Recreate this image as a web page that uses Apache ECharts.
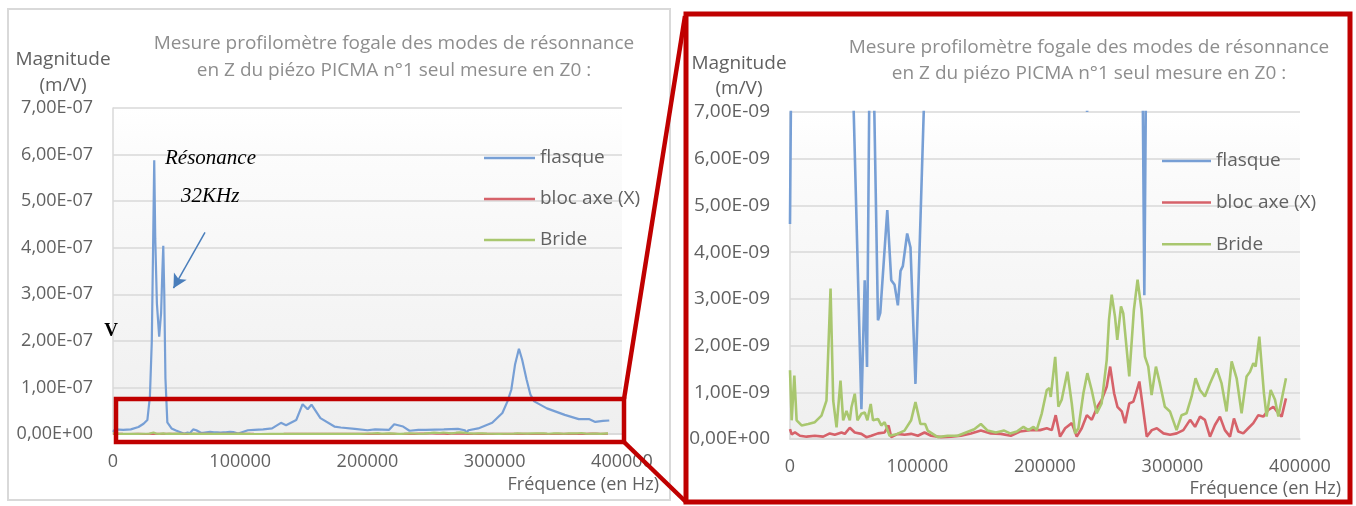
<!DOCTYPE html>
<html>
<head>
<meta charset="utf-8">
<script src="https://cdn.jsdelivr.net/npm/echarts@6/dist/echarts.min.js"></script>
<style>
html,body{margin:0;padding:0;background:#fff;}
#chart{width:1356px;height:506px;}
</style>
</head>
<body>
<div id="chart"></div>
<script>
// ---- data (frequency in Hz, magnitude in nm/V = 1e-9 m/V) ----
var flasqueFreq = [0,1500,8000,14000,20000,24000,27000,29000,30500,31500,32400,33200,34500,36300,37800,38800,39500,40300,41200,42700,46000,49500,56000,58600,60400,63000,65500,69000,70800,76300,79400,82000,84600,86700,88500,91900,94500,98400,106000,111000,118000,125000,132000,136000,144000,149000,153000,156000,163000,174000,179000,190000,200000,206000,217000,221000,228000,233000,240000,246000,260000,271000,276500,277900,279300,287000,298000,306000,310000,313000,316000,319000,321500,325000,328000,331000,341000,355000,366000,374000,379000,385000,390000];
var flasqueVal  = [4.6,10,9,10,15,22,30,80,200,400,588,420,280,209,260,350,404,300,120,25,12,7.5,0.64,3.4,1.54,10,8,2.54,2.7,4.9,3.4,3.3,2.86,3.6,3.7,4.4,4.1,1.18,8,9,10,12,24,19,30,64,53,63,34,16,14,11,8,10,9,21,16,7,9,9,10,11,8,3.08,8,12,24,45,70,95,150,183,160,117,85,70,55,41,32,32,26,28,29];

var blocFreq = [0,1300,3900,7800,13000,19500,26000,31200,35100,40400,43000,46900,50800,56000,59900,63800,69000,74200,77300,79400,84600,89800,95000,100300,105500,110700,118500,126300,134100,141900,149700,157500,165400,173200,180400,188300,196100,201400,205300,208400,211800,215800,221000,224900,228800,232800,236700,241100,244500,248400,251100,254200,256800,260200,262800,266100,269300,271400,274000,276700,279800,283800,287700,292900,298100,303300,308500,313800,317700,321600,325400,329400,333300,337200,341100,345100,348200,351600,355500,359400,363400,367300,371200,375200,379100,383000,385600,389000];
var blocVal  = [0.21,0.1,0.14,0.07,0.05,0.07,0.05,0.12,0.09,0.14,0.11,0.24,0.14,0.11,0.04,0.07,0.12,0.14,0.29,0.04,0.11,0.09,0.11,0.07,0.14,0.07,0.04,0.05,0.07,0.12,0.18,0.12,0.11,0.07,0.16,0.19,0.19,0.23,0.19,0.51,0.05,0.23,0.34,0.05,0.23,0.51,0.41,0.69,0.84,1.12,1.55,0.98,0.69,0.59,0.34,0.76,0.8,0.98,1.23,0.69,0.05,0.19,0.23,0.12,0.09,0.12,0.19,0.41,0.26,0.48,0.41,0.05,0.3,0.48,0.19,0.05,0.44,0.16,0.12,0.23,0.34,0.51,0.48,0.62,0.69,0.55,0.48,0.87];

var brideFreq = [0,1300,3400,5200,9100,14300,19500,24700,28600,31800,33900,36500,39600,41700,44300,46900,48200,50800,52900,56000,58600,60700,63300,65100,69000,71600,74200,78100,83300,89800,95000,98400,102300,106000,108000,115900,123700,131500,138000,144500,149700,155000,161400,168000,172600,177900,183100,187000,191000,193500,197500,201400,203500,204500,208000,210500,213100,217600,221000,223600,226200,230100,233200,236600,240500,244400,248400,250200,252300,254900,256700,259600,261400,266100,269700,272600,275700,278400,281000,283600,287000,290100,294000,298000,303200,307100,311000,315000,318100,321500,325400,329400,334600,338500,342400,346400,350300,354200,358100,360800,363400,365200,368100,371700,373800,377000,380400,383000,385600,389000];
var brideVal  = [1.47,0.4,1.36,0.4,0.29,0.32,0.36,0.5,0.82,3.22,0.82,0.25,1.25,0.4,0.6,0.4,0.68,0.97,0.4,0.54,0.57,0.4,0.75,0.4,0.43,0.29,0.36,0.07,0.1,0.18,0.4,0.79,0.32,0.32,0.18,0.04,0.07,0.07,0.14,0.21,0.32,0.18,0.14,0.18,0.12,0.16,0.26,0.19,0.26,0.19,0.55,1.05,1.09,0.9,1.76,0.69,0.84,1.44,0.76,0.12,0.23,0.98,1.41,1.05,0.55,0.76,1.69,2.55,3.09,2.62,2.12,2.84,2.69,1.34,2.76,3.41,2.76,1.76,1.55,0.94,1.55,1.19,0.69,0.59,0.19,0.51,0.55,0.91,1.3,1.05,0.91,1.19,1.51,1.19,0.59,1.66,1.3,0.55,1.34,1.44,1.62,1.55,2.19,0.98,0.48,1.05,0.84,0.48,0.84,1.3];

var seriesNames = ['flasque', 'bloc axe (X)', 'Bride'];
var xTicks = [0, 100000, 200000, 300000, 400000];
var titleLines = ['Mesure profilomètre fogale des modes de résonnance', 'en Z du piézo PICMA n°1 seul mesure en Z0 :'];
var yNameLines = ['Magnitude', '(m/V)'];
var xName = 'Fréquence (en Hz)';

// ---- helpers ----
var UNIT = 1e-9;
function pairs(f, v) { return f.map(function (x, i) { return [x, v[i] * UNIT]; }); }
function sci(v) {
  if (Math.abs(v) < 1e-20) return '0,00E+00';
  var e = Math.floor(Math.log10(v) + 1e-9);
  var s = (v / Math.pow(10, e)).toFixed(2);
  if (s === '10.00') { e += 1; s = '1.00'; }
  return s.replace('.', ',') + 'E' + (e < 0 ? '-' : '+') + String(Math.abs(e)).padStart(2, '0');
}

var FONT = "'Open Sans', 'Noto Sans', sans-serif";
var LABEL = '#616161';
var TITLE = '#8e8e8e';
var GRID = '#d9d9d9';
var RED = '#c00000';
var colors = ['#779fd5', '#d6626a', '#a9c76f'];

var chart = echarts.init(document.getElementById('chart'), null, { renderer: 'canvas' });

function bg() {
  return new echarts.graphic.LinearGradient(0, 0, 0, 1, [
    { offset: 0, color: '#ffffff' },
    { offset: 0.12, color: '#fcfcfc' },
    { offset: 1, color: '#efefef' }
  ]);
}

function xAxisCfg(gi, margin) {
  return {
    gridIndex: gi, type: 'value', min: xTicks[0], max: xTicks[xTicks.length - 1], interval: 100000,
    axisLine: { show: true, lineStyle: { color: GRID, width: 1.5 } },
    axisTick: { show: false }, splitLine: { show: false },
    axisLabel: { fontFamily: FONT, fontSize: 18, color: LABEL, margin: margin,
      formatter: function (v) { return String(Math.round(v)); } }
  };
}
function yAxisCfg(gi, max, fs) {
  return {
    gridIndex: gi, type: 'value', min: 0, max: max, interval: max / 7,
    axisLine: { show: true, lineStyle: { color: GRID, width: 1.5 } },
    axisTick: { show: false },
    splitLine: { show: true, lineStyle: { color: GRID, width: 1.5 } },
    axisLabel: { fontFamily: FONT, fontSize: fs, color: LABEL, margin: 20, formatter: sci }
  };
}

var datasets = [pairs(flasqueFreq, flasqueVal), pairs(blocFreq, blocVal), pairs(brideFreq, brideVal)];
var series = [];
[0, 1].forEach(function (gi) {
  seriesNames.forEach(function (name, k) {
    var s = {
      name: name, type: 'line', xAxisIndex: gi, yAxisIndex: gi,
      data: datasets[k], symbol: 'none', showSymbol: false, clip: true,
      lineStyle: { color: colors[k], width: gi === 0 ? 2.2 : 2.6 },
      itemStyle: { color: colors[k] }, z: 3 + k, animation: false
    };
    if (gi === 0 && k === 0) {
      s.markLine = {
        silent: true, symbol: ['none', 'arrow'], symbolSize: [11, 14],
        label: { show: false },
        lineStyle: { color: '#4a7ebb', width: 1.5, type: 'solid' },
        data: [[{ coord: [72300, 4.33e-7] }, { coord: [47500, 3.13e-7] }]]
      };
    }
    series.push(s);
  });
});

function texts(cx, y0, lines, lh, style) {
  return lines.map(function (t, i) {
    return { type: 'text', x: cx, y: y0 + i * lh, z: 20,
      style: Object.assign({ text: t, align: 'center', verticalAlign: 'middle', font: '19px ' + FONT }, style) };
  });
}

var graphics = [
  { type: 'rect', shape: { x: 8, y: 9, width: 662, height: 491 }, style: { fill: 'none', stroke: '#d9d9d9', lineWidth: 2 }, z: 0 }
]
.concat(texts(394, 44, titleLines, 27, { fill: TITLE }))
.concat(texts(1089, 48, titleLines, 26, { fill: TITLE }))
.concat(texts(63, 60, yNameLines, 26, { fill: LABEL }))
.concat(texts(739, 64, yNameLines, 25, { fill: LABEL }))
.concat([
  { type: 'text', x: 659, y: 485, z: 20, style: { text: xName, align: 'right', verticalAlign: 'middle', font: '18px ' + FONT, fill: LABEL } },
  { type: 'text', x: 1341, y: 489, z: 20, style: { text: xName, align: 'right', verticalAlign: 'middle', font: '18px ' + FONT, fill: LABEL } },
  { type: 'text', x: 165, y: 158, z: 20, style: { text: 'Résonance', align: 'left', verticalAlign: 'middle', font: 'italic 21px "Liberation Serif", serif', fill: '#000' } },
  { type: 'text', x: 181, y: 196, z: 20, style: { text: '32KHz', align: 'left', verticalAlign: 'middle', font: 'italic 21px "Liberation Serif", serif', fill: '#000' } },
  { type: 'text', x: 111, y: 331, z: 20, style: { text: 'V', align: 'center', verticalAlign: 'middle', font: 'bold 19px "Liberation Serif", serif', fill: '#000' } },
  // zoom frame and connectors
  { type: 'rect', shape: { x: 116, y: 399, width: 508, height: 43 }, style: { fill: 'none', stroke: RED, lineWidth: 4.5 }, z: 30 },
  { type: 'rect', shape: { x: 686, y: 14, width: 664, height: 488 }, style: { fill: 'none', stroke: RED, lineWidth: 5 }, z: 30 },
  { type: 'line', shape: { x1: 624, y1: 399, x2: 685, y2: 16 }, style: { stroke: RED, lineWidth: 4.5 }, z: 30 },
  { type: 'line', shape: { x1: 624, y1: 442, x2: 686, y2: 502 }, style: { stroke: RED, lineWidth: 4.5 }, z: 30 }
]);

var option = {
  animation: false,
  backgroundColor: '#ffffff',
  grid: [
    { left: 113, top: 108, width: 509, height: 326, show: true, backgroundColor: bg(), borderWidth: 0, containLabel: false },
    { left: 790, top: 112, width: 510, height: 327, show: true, backgroundColor: bg(), borderWidth: 0, containLabel: false }
  ],
  xAxis: [xAxisCfg(0, 19), xAxisCfg(1, 19)],
  yAxis: [yAxisCfg(0, 7e-7, 18), yAxisCfg(1, 7e-9, 19)],
  legend: [
    { data: seriesNames, orient: 'vertical', left: 479, top: 143, itemWidth: 51, itemHeight: 2.5, itemGap: 21, icon: 'rect',
      textStyle: { fontFamily: FONT, fontSize: 19, color: LABEL, lineHeight: 20 }, selectedMode: false },
    { data: seriesNames, orient: 'vertical', left: 1157, top: 146, itemWidth: 49, itemHeight: 2.5, itemGap: 21.6, icon: 'rect',
      textStyle: { fontFamily: FONT, fontSize: 19, color: LABEL, lineHeight: 20 }, selectedMode: false }
  ],
  series: series,
  graphic: graphics
};
chart.setOption(option);
</script>
</body>
</html>
